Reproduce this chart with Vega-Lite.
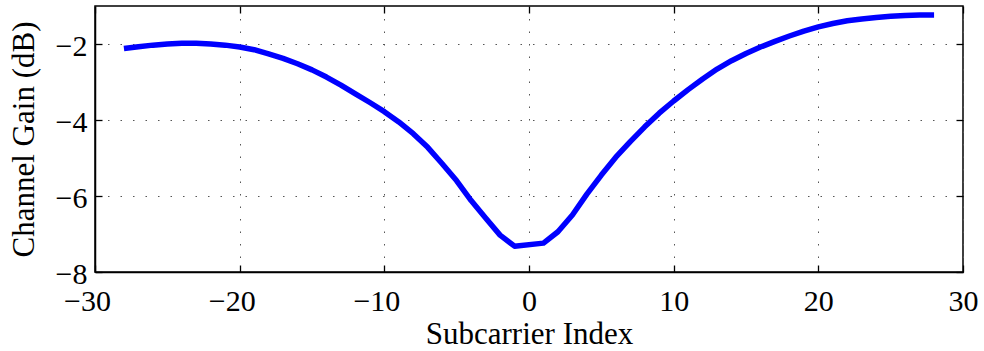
{
  "$schema": "https://vega.github.io/schema/vega-lite/v6.json",
  "width": 868,
  "height": 266,
  "autosize": "none",
  "padding": {"left": 95, "top": 6, "right": 21, "bottom": 79},
  "config": {
    "view": {"stroke": "black", "strokeWidth": 1.5},
    "font": "Liberation Serif",
    "axis": {
      "labelFont": "Liberation Serif",
      "titleFont": "Liberation Serif",
      "labelFontSize": 30,
      "titleFontSize": 31,
      "labelColor": "black",
      "titleColor": "black",
      "titleFontWeight": "normal",
      "domainColor": "black",
      "domainWidth": 1.5,
      "tickColor": "black",
      "tickWidth": 1.3,
      "gridColor": "#555555",
      "gridDash": [1.5, 11],
      "gridWidth": 1,
      "gridOpacity": 1
    }
  },
  "data": {
    "values": [
      {"k": -28, "g": -2.12}, {"k": -27, "g": -2.07}, {"k": -26, "g": -2.03}, {"k": -25, "g": -2.0},
      {"k": -24, "g": -1.98}, {"k": -23, "g": -1.98}, {"k": -22, "g": -2.0}, {"k": -21, "g": -2.03},
      {"k": -20, "g": -2.08}, {"k": -19, "g": -2.15}, {"k": -18, "g": -2.26}, {"k": -17, "g": -2.38},
      {"k": -16, "g": -2.52}, {"k": -15, "g": -2.68}, {"k": -14, "g": -2.87}, {"k": -13, "g": -3.08},
      {"k": -12, "g": -3.31}, {"k": -11, "g": -3.54}, {"k": -10, "g": -3.78}, {"k": -9, "g": -4.05},
      {"k": -8, "g": -4.36}, {"k": -7, "g": -4.72}, {"k": -6, "g": -5.15}, {"k": -5, "g": -5.6},
      {"k": -4, "g": -6.12}, {"k": -3, "g": -6.58}, {"k": -2, "g": -7.03}, {"k": -1, "g": -7.32},
      {"k": 1, "g": -7.24}, {"k": 2, "g": -6.94}, {"k": 3, "g": -6.5}, {"k": 4, "g": -5.95},
      {"k": 5, "g": -5.45}, {"k": 6, "g": -4.98}, {"k": 7, "g": -4.57}, {"k": 8, "g": -4.18},
      {"k": 9, "g": -3.82}, {"k": 10, "g": -3.5}, {"k": 11, "g": -3.2}, {"k": 12, "g": -2.92},
      {"k": 13, "g": -2.66}, {"k": 14, "g": -2.44}, {"k": 15, "g": -2.25}, {"k": 16, "g": -2.08},
      {"k": 17, "g": -1.93}, {"k": 18, "g": -1.79}, {"k": 19, "g": -1.66}, {"k": 20, "g": -1.55},
      {"k": 21, "g": -1.46}, {"k": 22, "g": -1.39}, {"k": 23, "g": -1.34}, {"k": 24, "g": -1.3},
      {"k": 25, "g": -1.27}, {"k": 26, "g": -1.25}, {"k": 27, "g": -1.24}, {"k": 28, "g": -1.24}
    ]
  },
  "layer": [
    {
      "mark": {"type": "line", "color": "#0000ff", "strokeWidth": 5.5, "strokeJoin": "round", "clip": true},
      "encoding": {
        "x": {
          "field": "k", "type": "quantitative",
          "scale": {"domain": [-30, 30], "nice": false, "zero": false},
          "axis": {
            "orient": "bottom",
            "title": "Subcarrier Index",
            "values": [-30, -20, -10, 0, 10, 20, 30],
            "tickSize": -7,
            "labelPadding": 45,
            "labelBaseline": "alphabetic",
            "labelOffset": {"condition": {"test": "datum.value < 0", "value": -8}, "value": 0},
            "labelFlush": false,
            "labelOverlap": false,
            "titleBaseline": "alphabetic",
            "titleY": 71,
            "grid": true
          }
        },
        "y": {
          "field": "g", "type": "quantitative",
          "scale": {"domain": [-8, -1], "nice": false, "zero": false},
          "axis": {
            "orient": "left",
            "title": "Channel Gain (dB)",
            "values": [-8, -6, -4, -2],
            "tickSize": -7,
            "labelPadding": 15,
            "labelOffset": 2,
            "labelFlush": false,
            "labelOverlap": false,
            "titleBaseline": "alphabetic",
            "titleX": -62,
            "titleY": 133,
            "grid": true
          }
        }
      }
    },
    {
      "mark": {"type": "line", "opacity": 0},
      "encoding": {
        "x": {
          "field": "k", "type": "quantitative",
          "axis": {"orient": "top", "title": null, "labels": false, "domain": false, "grid": false, "tickSize": -7, "values": [-30, -20, -10, 0, 10, 20, 30]}
        },
        "y": {
          "field": "g", "type": "quantitative",
          "axis": {"orient": "right", "title": null, "labels": false, "domain": false, "grid": false, "tickSize": -7, "values": [-8, -6, -4, -2]}
        }
      }
    }
  ],
  "resolve": {"axis": {"x": "independent", "y": "independent"}}
}
